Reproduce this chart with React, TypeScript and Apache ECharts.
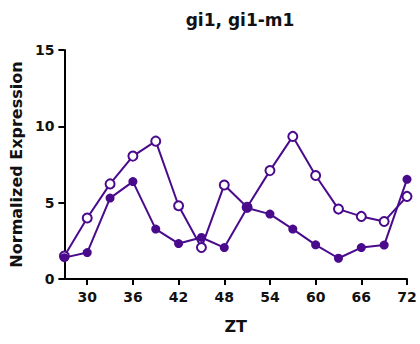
import React, { useEffect, useRef } from "react";
import * as echarts from "echarts";

const zt = [27, 30, 33, 36, 39, 42, 45, 48, 51, 54, 57, 60, 63, 66, 69, 72];
const openSeries = [1.51, 4.0, 6.23, 8.05, 9.03, 4.8, 2.06, 6.16, 4.7, 7.1, 9.34, 6.78, 4.58, 4.1, 3.77, 5.41];
const filledSeries = [1.4, 1.73, 5.3, 6.38, 3.27, 2.32, 2.72, 2.06, 4.65, 4.25, 3.27, 2.24, 1.36, 2.06, 2.22, 6.53];
const xTicks = [30, 36, 42, 48, 54, 60, 66, 72];
const yTicks = [0, 5, 10, 15];

const COLOR = "#4a0a8c";
const FONT = "DejaVu Sans";

export default function App() {
  const ref = useRef<HTMLDivElement>(null);
  useEffect(() => {
    if (!ref.current) return;
    const chart = echarts.init(ref.current, null, { renderer: "svg" });
    chart.setOption({
      animation: false,
      backgroundColor: "#ffffff",
      title: {
        text: "gi1, gi1-m1",
        left: 235,
        textAlign: "center",
        top: 6,
        textStyle: { fontFamily: FONT, fontWeight: "bold", fontSize: 17, color: "#111" },
      },
      grid: { left: 63, right: 13, top: 50, bottom: 65 },
      xAxis: {
        type: "value",
        min: 27,
        max: 72,
        name: "ZT",
        nameLocation: "middle",
        nameGap: 39,
        nameTextStyle: { fontFamily: FONT, fontWeight: "bold", fontSize: 16, color: "#111" },
        splitLine: { show: false },
        axisLine: { show: true, lineStyle: { color: "#000", width: 2 } },
        axisTick: {
          show: true,
          length: 6,
          lineStyle: { color: "#000", width: 2 },
          customValues: xTicks,
        },
        axisLabel: {
          fontFamily: FONT,
          fontWeight: "bold",
          fontSize: 14,
          color: "#111",
          margin: 11,
          customValues: xTicks,
        },
      },
      yAxis: {
        type: "value",
        min: 0,
        max: 15,
        interval: 5,
        name: "Normalized Expression",
        nameLocation: "middle",
        nameGap: 37,
        nameTextStyle: { fontFamily: FONT, fontWeight: "bold", fontSize: 16, color: "#111" },
        splitLine: { show: false },
        axisLine: { show: true, lineStyle: { color: "#000", width: 2 } },
        axisTick: { show: true, length: 6, lineStyle: { color: "#000", width: 2 }, customValues: yTicks },
        axisLabel: {
          fontFamily: FONT,
          fontWeight: "bold",
          fontSize: 14,
          color: "#111",
          margin: 10,
          customValues: yTicks,
        },
      },
      series: [
        {
          type: "line",
          name: "gi1-m1",
          data: zt.map((x, i) => [x, openSeries[i]]),
          symbol: "circle",
          symbolSize: 9,
          showAllSymbol: true,
          lineStyle: { color: COLOR, width: 2 },
          itemStyle: { color: "#ffffff", borderColor: COLOR, borderWidth: 2 },
          clip: false,
        },
        {
          type: "line",
          name: "gi1",
          data: zt.map((x, i) => [x, filledSeries[i]]),
          symbol: "circle",
          symbolSize: 9,
          showAllSymbol: true,
          lineStyle: { color: COLOR, width: 2 },
          itemStyle: { color: COLOR, borderColor: COLOR, borderWidth: 0 },
          clip: false,
        },
      ],
    });
    return () => chart.dispose();
  }, []);
  return <div ref={ref} style={{ width: 420, height: 344, position: "absolute", left: 0, top: 0 }} />;
}
